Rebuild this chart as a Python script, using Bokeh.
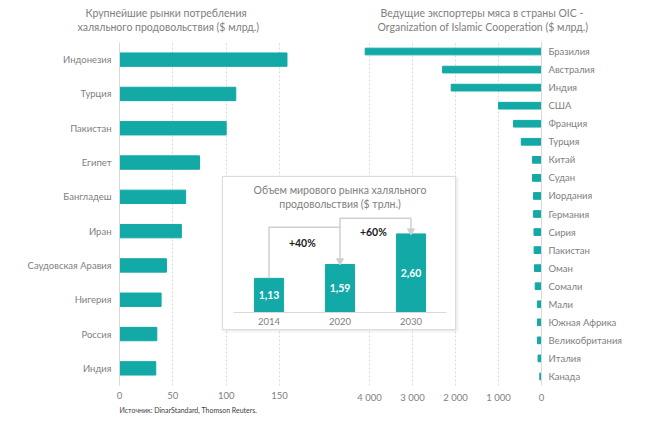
from bokeh.plotting import figure
from bokeh.layouts import row
from bokeh.models import Range1d, FactorRange, FixedTicker, Title
from bokeh.embed import file_html
from bokeh.resources import INLINE
from bokeh.core.properties import value

# ---------------- data ----------------
markets = ["Индонезия", "Турция", "Пакистан", "Египет", "Бангладеш", "Иран",
           "Саудовская Аравия", "Нигерия", "Россия", "Индия"]
market_values = [157, 109, 100, 75, 62, 58, 44, 39, 35, 34]
market_ticks = [0, 50, 100, 150]

exporters = ["Бразилия", "Австралия", "Индия", "США", "Франция", "Турция", "Китай",
             "Судан", "Иордания", "Германия", "Сирия", "Пакистан", "Оман", "Сомали",
             "Мали", "Южная Африка", "Великобритания", "Италия", "Канада"]
exporter_values = [4100, 2300, 2100, 1000, 650, 470, 210, 210, 186, 184, 175, 172,
                   163, 147, 95, 95, 95, 80, 40]
exporter_ticks = [0, 1000, 2000, 3000, 4000]

years = ["2014", "2020", "2030"]
market_size = [1.13, 1.59, 2.60]
market_size_labels = ["1,13", "1,59", "2,60"]
growth_labels = ["+40%", "+60%"]

title_left = ["Крупнейшие рынки потребления", "халяльного продовольствия ($ млрд.)"]
title_right = ["Ведущие экспортеры мяса в страны OIC -",
               "Organization  of Islamic Cooperation ($ млрд.)"]
title_inset = ["Объем мирового рынка халяльного", "продовольствия ($ трлн.)"]
source_text = "Источник: DinarStandard, Thomson Reuters."

# ---------------- style ----------------
FONT = "Lato"
TEAL = "#12A9A7"
GREY = "#808080"
LIGHT = "#d9d9d9"
FS = "9.5px"
TFS = "10.5px"


def style_common(p):
    p.outline_line_color = None
    p.background_fill_color = "white"
    p.border_fill_color = "white"
    p.frame_align = False
    for ax in p.axis:
        ax.major_tick_line_color = None
        ax.minor_tick_line_color = None
        ax.major_tick_out = 0
        ax.major_tick_in = 0
        ax.major_label_text_font = FONT
        ax.major_label_text_font_size = FS
        ax.major_label_text_color = GREY


def add_title_lines(p, lines, align, offsets, gap, line_height=1.0):
    """Two stacked one-line titles; the second line sits `gap` px above the frame,
    the first line directly above it."""
    (l1, l2), (o1, o2) = lines, offsets
    for txt, off, so in [(l2, o2, gap), (l1, o1, -gap)]:
        p.add_layout(Title(text=txt, align=align, offset=off, vertical_align="bottom",
                           text_font=FONT, text_font_size=TFS, text_font_style="normal",
                           text_color=GREY, text_line_height=line_height,
                           standoff=so), "above")


# ---------------- left chart ----------------
left = figure(width=335, height=432, output_backend="svg", toolbar_location=None,
              x_range=Range1d(0, 197.8),
              y_range=FactorRange(factors=list(reversed(markets)), range_padding=0),
              min_border_left=119, min_border_right=5, min_border_top=42,
              min_border_bottom=47)
left.hbar(y=markets, right=market_values, height=0.39, color=TEAL)
style_common(left)
left.xaxis.ticker = FixedTicker(ticks=market_ticks)
left.xaxis.axis_line_color = None
left.xaxis.major_label_standoff = 6
left.yaxis.axis_line_color = LIGHT
left.yaxis.major_label_standoff = 8
left.xgrid.ticker = FixedTicker(ticks=market_ticks[1:])
left.xgrid.grid_line_color = LIGHT
left.xgrid.grid_line_dash = "2 2"
left.ygrid.grid_line_color = None
add_title_lines(left, title_left, "left", [-34, -42], 20)
left.add_layout(Title(text=source_text, align="left", offset=0, text_font=FONT,
                      text_font_size="7px", text_font_style="normal",
                      text_color="#404040", standoff=4), "below")

# ---------------- right chart ----------------
right = figure(width=328, height=432, output_backend="svg", toolbar_location=None,
               x_range=Range1d(4558, 0),
               y_range=FactorRange(factors=list(reversed(exporters)), range_padding=0),
               y_axis_location="right",
               min_border_left=10, min_border_right=122, min_border_top=42,
               min_border_bottom=47)
right.hbar(y=exporters, right=exporter_values, height=0.37, color=TEAL)
style_common(right)
right.xaxis.ticker = FixedTicker(ticks=exporter_ticks)
right.xaxis.major_label_overrides = {t: f"{t:,}".replace(",", " ") for t in exporter_ticks}
right.xaxis.axis_line_color = None
right.xaxis.major_label_standoff = 6
right.yaxis.axis_line_color = LIGHT
right.yaxis.major_label_standoff = 7
right.xgrid.ticker = FixedTicker(ticks=exporter_ticks[1:])
right.xgrid.grid_line_color = LIGHT
right.xgrid.grid_line_dash = "2 2"
right.ygrid.grid_line_color = None
add_title_lines(right, title_right, "left", [35, 32], 20)

# ---------------- inset ----------------
inset = figure(width=234, height=154, output_backend="svg", toolbar_location=None,
               x_range=FactorRange(factors=years, range_padding=0),
               y_range=Range1d(0, 3.21),
               min_border_left=10, min_border_right=11, min_border_top=38,
               min_border_bottom=19,
               styles={"position": "absolute", "left": "222px", "top": "176px",
                       "border": "1px solid #dcdcdc",
                       "box-shadow": "1px 1px 3px rgba(0,0,0,0.12)",
                       "background": "white", "z-index": "10"})
inset.vbar(x=years, top=market_size, width=0.41, color=TEAL)
inset.text(x=years, y=[v / 2 for v in market_size], text=market_size_labels,
           text_color="white", text_font=value(FONT), text_font_size="10.5px",
           text_font_style="bold", text_align="center", text_baseline="middle")
# arrows between bars
lvl1, lvl2 = 2.82, 3.12
inset.multi_line(xs=[[years[0], years[0], years[1], years[1]],
                     [years[1], years[1], years[2], years[2]]],
                 ys=[[market_size[0], lvl1, lvl1, market_size[1] + 0.14],
                     [lvl1, lvl2, lvl2, market_size[2] + 0.12]],
                 line_color="#cfcfcf", line_width=1.5)
inset.scatter(x=years[1:], y=[market_size[1] + 0.12, market_size[2] + 0.10],
              marker="inverted_triangle", size=7, color="#cfcfcf")
inset.text(x=[0.97, 1.97], y=[2.29, 2.66], text=growth_labels, text_color="#1a1a1a",
           text_font=value(FONT), text_font_size="10.5px", text_font_style="bold",
           text_align="center", text_baseline="middle")
style_common(inset)
inset.yaxis.visible = False
inset.xaxis.axis_line_color = LIGHT
inset.xaxis.major_label_standoff = 5
inset.xgrid.grid_line_color = None
inset.ygrid.grid_line_color = None
add_title_lines(inset, title_inset, "center", [0, 0], 11, line_height=0.9)

layout = row(left, right, inset)
open("out.html", "w").write(file_html(layout, INLINE))
